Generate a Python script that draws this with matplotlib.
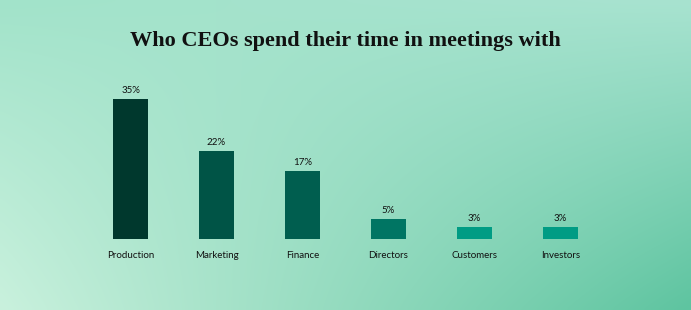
import numpy as np
import matplotlib
matplotlib.use("Agg")
import matplotlib.pyplot as plt
from matplotlib.colors import to_rgb

categories = ["Production", "Marketing", "Finance", "Directors", "Customers", "Investors"]
shares = [35, 22, 17, 5, 3, 3]
bar_colors = ["#00382d", "#005446", "#005e4f", "#007563", "#009c84", "#009c84"]
title = "Who CEOs spend their time in meetings with"

W, H = 691, 310
fig = plt.figure(figsize=(W / 100, H / 100), dpi=100)

# background gradient (bilinear between corner colours)
tl, tr = np.array(to_rgb("#a2e3ca")), np.array(to_rgb("#a8e3d0"))
bl, br = np.array(to_rgb("#c9f1dd")), np.array(to_rgb("#5ec4a0"))
u = np.linspace(0, 1, 200)[None, :, None]
v = np.linspace(0, 1, 100)[:, None, None]
grad = (1 - v) * ((1 - u) * tl + u * tr) + v * ((1 - u) * bl + u * br)
bg = fig.add_axes([0, 0, 1, 1])
bg.imshow(grad, aspect="auto", extent=[0, 1, 0, 1], interpolation="bicubic")
bg.axis("off")

# bar axes: baseline at y=239px, 35% at y=99px
ax = fig.add_axes([87.5 / W, (H - 239) / H, 516 / W, 140 / H])
ax.patch.set_alpha(0)
x = np.arange(len(categories))
ax.bar(x, shares, width=35 / 86, color=bar_colors)
ax.set_xlim(-0.5, len(categories) - 0.5)
ax.set_ylim(0, 35)
for xi, s in zip(x, shares):
    ax.annotate(f"{s}%", (xi, s), xytext=(0, 3), textcoords="offset points",
                ha="center", va="bottom", fontsize=7, family="Lato", color="#111111")
ax.set_xticks(x)
ax.set_xticklabels(categories, fontsize=7, family="Lato", color="#111111")
ax.tick_params(axis="x", length=0, pad=9)
ax.set_yticks([])
for sp in ax.spines.values():
    sp.set_visible(False)

fig.text(0.5, 1 - 41 / H, title, ha="center", va="center",
         fontsize=16, fontweight="bold", family="Liberation Serif", color="#111111")

fig.savefig("out.png", dpi=100)
